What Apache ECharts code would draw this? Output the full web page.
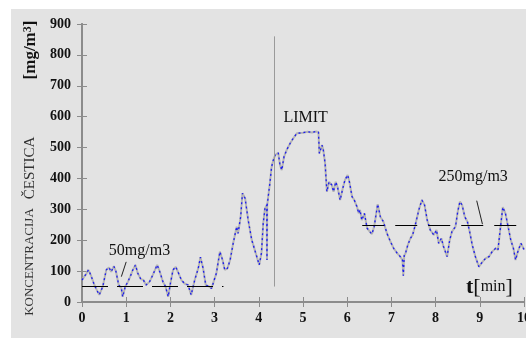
<!DOCTYPE html>
<html>
<head>
<meta charset="utf-8">
<script src="https://cdn.jsdelivr.net/npm/echarts@6/dist/echarts.min.js"></script>
<style>
  html, body { margin: 0; padding: 0; background: #ffffff; }
  #panel { position: absolute; left: 11px; top: 9px; width: 515px; height: 329px; background: #e3e3e3; }
  #chart { position: absolute; left: 0; top: 0; width: 526px; height: 338px; }
</style>
</head>
<body>
<div id="panel"></div>
<div id="chart"></div>
<script>
// Measurement time in minutes
const timeMin = [
  0.00, 0.05, 0.10, 0.145, 0.20, 0.28, 0.33, 0.39, 0.47, 0.55, 0.61, 0.66, 0.72, 0.77, 0.83, 0.89, 0.92, 0.98,
  1.04, 1.09, 1.15, 1.21, 1.26, 1.33, 1.39, 1.45, 1.53, 1.60, 1.70, 1.76, 1.83, 1.89, 1.95,
  2.00, 2.06, 2.12, 2.17, 2.25, 2.32, 2.40, 2.47, 2.55, 2.63, 2.68, 2.74, 2.80, 2.88, 2.93, 2.97,
  3.04, 3.12, 3.18, 3.23, 3.29, 3.35, 3.42, 3.50, 3.53, 3.59, 3.63, 3.69, 3.76, 3.84, 3.91,
  4.01, 4.06, 4.10, 4.14, 4.18, 4.185, 4.19, 4.21, 4.25, 4.29, 4.33, 4.37, 4.40, 4.44, 4.48, 4.52, 4.57, 4.63, 4.71, 4.78, 4.86, 4.89,
  5.00, 5.10, 5.20, 5.30, 5.35, 5.37, 5.43, 5.46, 5.50, 5.54, 5.59, 5.65, 5.69, 5.74, 5.78, 5.84, 5.90, 5.95,
  6.01, 6.05, 6.11, 6.16, 6.22, 6.26, 6.29, 6.33, 6.39, 6.45, 6.51, 6.56, 6.61, 6.69, 6.75, 6.82, 6.90, 6.98,
  7.05, 7.13, 7.20, 7.25, 7.27, 7.29, 7.32, 7.37, 7.43, 7.48, 7.54, 7.62, 7.69, 7.75, 7.81, 7.88, 7.96,
  8.02, 8.07, 8.13, 8.18, 8.26, 8.32, 8.37, 8.45, 8.50, 8.55, 8.60, 8.66, 8.72, 8.77, 8.83, 8.90, 8.98,
  9.06, 9.13, 9.21, 9.28, 9.36, 9.41, 9.47, 9.52, 9.58, 9.64, 9.70, 9.76, 9.81, 9.86, 9.93, 9.97, 10.00
];

// Particle concentration in mg/m3
const concentration = [
  71, 82, 92, 104, 87, 55, 40, 23, 50, 104, 112, 98, 116, 98, 55, 45, 17, 50,
  66, 82, 104, 120, 94, 74, 71, 55, 66, 87, 120, 98, 66, 50, 17,
  60, 104, 114, 98, 71, 60, 55, 23, 71, 109, 145, 109, 55, 50, 44, 39,
  93, 163, 136, 104, 109, 135, 190, 244, 222, 276, 352, 336, 265, 201, 168,
  120, 158, 255, 303, 314, 136, 314, 320, 384, 438, 460, 476, 481, 483, 443, 427, 470, 492, 514, 530, 546, 550,
  548, 551, 549, 552, 550, 481, 508, 492, 449, 357, 389, 379, 357, 389, 373, 330, 368, 395,
  411, 389, 341, 330, 309, 287, 298, 265, 287, 239, 228, 220, 244, 317, 276, 260, 222, 195,
  174, 158, 147, 136, 85, 150, 158, 184, 206, 217, 249, 298, 330, 314, 265, 233, 217,
  233, 190, 206, 179, 147, 201, 228, 244, 292, 325, 314, 276, 260, 228, 184, 147, 114,
  130, 141, 147, 163, 174, 168, 244, 307, 287, 244, 201, 174, 136, 163, 190, 179, 170
];

const xTicks = [0, 1, 2, 3, 4, 5, 6, 7, 8, 9, 10];
const yTicks = [0, 100, 200, 300, 400, 500, 600, 700, 800, 900];

// Reference levels: [value, from t, to t]
const lowLevel = [50, 0, 3.2];
const highLevel = [250, 6.34, 10];
// Vertical marker at the moment the limit is reached
const limitTime = [4.35, 50, 860];

const points = timeMin.map((t, i) => [t, concentration[i]]);

const SERIF = '"Liberation Serif", "DejaVu Serif", serif';
const FRAME = '#8c8c8c';

const tickLabel = { fontFamily: SERIF, fontWeight: 'bold', fontSize: 14, color: '#111' };

function axisBase(extra) {
  return Object.assign({
    type: 'value',
    splitLine: { show: false },
    axisLine: { show: true, lineStyle: { color: FRAME, width: 2 } },
    axisTick: { show: true, inside: true, length: 5, lineStyle: { color: FRAME, width: 1 } }
  }, extra);
}

const chart = echarts.init(document.getElementById('chart'), null, { renderer: 'canvas' });

chart.setOption({
  backgroundColor: 'transparent',
  animation: false,
  grid: { left: 82, right: 2, top: 24, bottom: 36, outerBoundsMode: 'none' },
  xAxis: [
    axisBase({
      position: 'bottom', min: xTicks[0], max: xTicks[xTicks.length - 1], interval: 1,
      axisLabel: Object.assign({ margin: 9 }, tickLabel)
    }),
    axisBase({
      position: 'top', min: xTicks[0], max: xTicks[xTicks.length - 1], interval: 1,
      axisLabel: { show: false }
    })
  ],
  yAxis: [
    axisBase({
      position: 'left', min: yTicks[0], max: yTicks[yTicks.length - 1], interval: 100,
      axisLabel: Object.assign({ margin: 11 }, tickLabel)
    }),
    axisBase({
      position: 'right', min: yTicks[0], max: yTicks[yTicks.length - 1], interval: 100,
      axisLabel: { show: false }
    })
  ],
  series: [
    {
      // grey trace under the measured signal
      type: 'line',
      data: points,
      symbol: 'none',
      lineStyle: { color: '#b4b4b4', width: 2 },
      z: 3,
      markLine: {
        silent: true,
        symbol: 'none',
        label: { show: false },
        data: [
          [
            { coord: [limitTime[0], limitTime[1]], lineStyle: { color: '#9a9a9a', width: 1, type: 'solid' } },
            { coord: [limitTime[0], limitTime[2]] }
          ]
        ]
      }
    },
    {
      // blue measured signal
      type: 'line',
      data: points,
      symbol: 'none',
      lineStyle: { color: '#1c1cf0', width: 1.3, type: [2, 3] },
      z: 4
    },
    {
      // reference levels, leader lines and annotations
      type: 'line',
      data: [],
      z: 5,
      markLine: {
        silent: true,
        symbol: 'none',
        label: { show: false },
        data: [
          [
            { coord: [lowLevel[1], lowLevel[0]], lineStyle: { color: '#000', width: 1.2, type: [26, 9] } },
            { coord: [lowLevel[2], lowLevel[0]] }
          ],
          [
            { coord: [highLevel[1], highLevel[0]], lineStyle: { color: '#000', width: 1.2, type: [22, 11] } },
            { coord: [highLevel[2], highLevel[0]] }
          ],
          [
            { coord: [1.0, 130], lineStyle: { color: '#222', width: 1, type: 'solid' } },
            { coord: [0.89, 82] }
          ],
          [
            { coord: [8.93, 328], lineStyle: { color: '#222', width: 1, type: 'solid' } },
            { coord: [9.06, 252] }
          ]
        ]
      },
      markPoint: {
        silent: true,
        symbol: 'circle',
        symbolSize: 1,
        itemStyle: { color: 'rgba(0,0,0,0)' },
        label: { show: true, position: 'inside', fontFamily: SERIF, fontSize: 16, color: '#111' },
        data: [
          { coord: [5.06, 597], label: { formatter: 'LIMIT' } },
          { coord: [1.30, 165], label: { formatter: '50mg/m3' } },
          { coord: [8.85, 404], label: { formatter: '250mg/m3' } }
        ]
      }
    }
  ],
  graphic: [
    {
      type: 'text', left: 466, top: 276, z: 10,
      style: {
        text: '{t|t}{b|[}{m|min}{b|]}',
        rich: {
          t: { fontFamily: SERIF, fontWeight: 'bold', fontSize: 22, fill: '#111' },
          b: { fontFamily: SERIF, fontSize: 22, fill: '#111' },
          m: { fontFamily: SERIF, fontSize: 16, fill: '#111' }
        }
      }
    },
    {
      type: 'text', x: 30, y: 262, rotation: Math.PI / 2, z: 10,
      style: { text: 'KONCENTRACIJA', fontFamily: SERIF, fontSize: 13, fill: '#333', align: 'center', verticalAlign: 'middle' }
    },
    {
      type: 'text', x: 30, y: 168, rotation: Math.PI / 2, z: 10,
      style: { text: 'ČESTICA', fontFamily: SERIF, fontSize: 15, fill: '#333', align: 'center', verticalAlign: 'middle' }
    },
    {
      type: 'text', x: 31, y: 50, rotation: Math.PI / 2, z: 10,
      style: {
        text: '{a|[mg/m}{s|3}{a|]}',
        align: 'center', verticalAlign: 'middle',
        rich: {
          a: { fontFamily: SERIF, fontWeight: 'bold', fontSize: 17, fill: '#111' },
          s: { fontFamily: SERIF, fontWeight: 'bold', fontSize: 12, fill: '#111', verticalAlign: 'top', padding: [0, 0, 6, 0] }
        }
      }
    }
  ]
});
</script>
</body>
</html>
